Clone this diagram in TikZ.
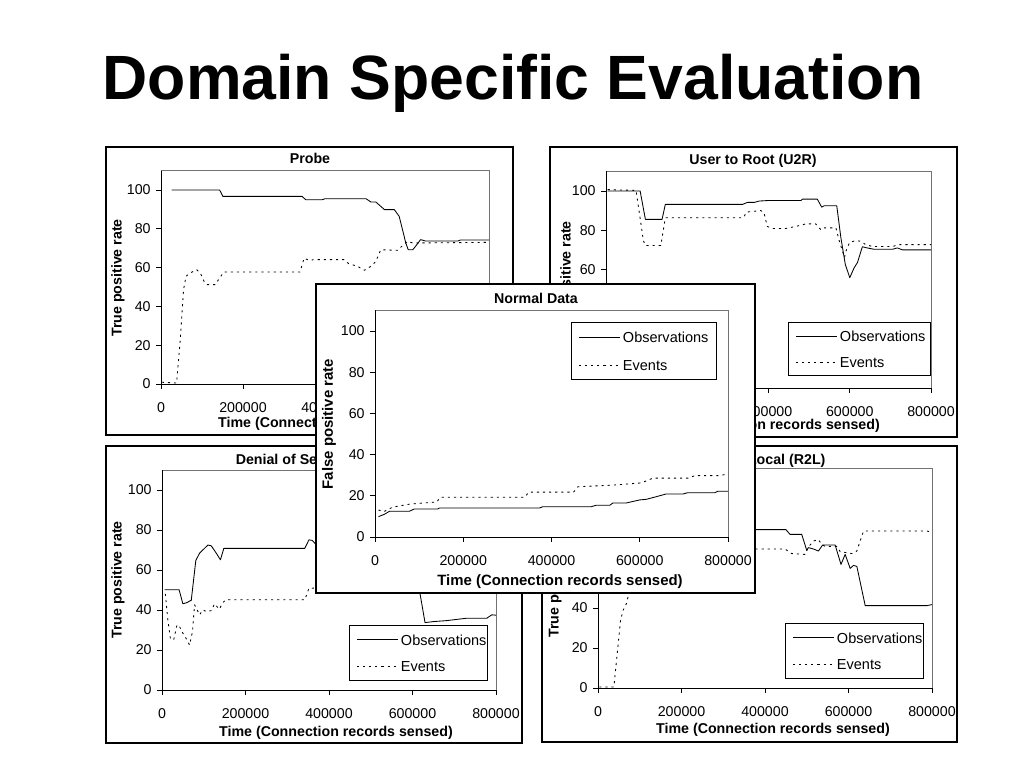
\documentclass[tikz,border=0pt]{standalone}
\usepackage{fontspec}
\setmainfont{Liberation Sans}

% frame, axes and ticks of one chart, drawn in data units (x in 1000s, y in %)
\newcommand{\rateaxes}[1]{%
  \draw[plotframe] (0,0) rectangle (800,110);
  \draw[axisline] (0,110) -- (0,0) -- (800,0);
  \foreach \v in {0,20,...,100}
    \draw[axisline] (0,\v) -- ++(-3.5pt,0pt) node[ticklabel, anchor=east, xshift=-3.5pt] (#1y\v) {\v};
  \foreach \t/\lab in {0/0,200/200000,400/400000,600/600000,800/800000}
    \draw[axisline] (\t,0) -- ++(0pt,-3.5pt) node[ticklabel, anchor=north, yshift=-9pt] (#1x\t) {\lab};
}
% legend box: name, left, top, width, height (pixels)
\newcommand{\ratelegend}[5]{%
  \draw[legendbox] (#2,#3) rectangle ({#2+#4},{#3+#5});
  \draw[obsline] ({#2+8},{#3+0.27*#5}) -- ({#2+49},{#3+0.27*#5})
    node[legendtext] (#1obs) {Observations};
  \draw[evtline] ({#2+8},{#3+0.76*#5}) -- ({#2+49},{#3+0.76*#5})
    node[legendtext] (#1evt) {Events};
}

\begin{document}
\begin{tikzpicture}[x=0.703125pt, y=-0.703125pt,
    chartbox/.style={draw=black, line width=0.9pt, fill=white},
    plotframe/.style={draw=black!55, line width=0.7pt},
    axisline/.style={draw=black, line width=0.6pt},
    obsline/.style={black, line width=0.6pt, line join=round},
    evtline/.style={black, line width=0.6pt, line join=round, dash pattern=on 1.5pt off 2.8pt},
    ticklabel/.style={inner sep=0pt, font=\fontsize{10}{12}\selectfont},
    charttitle/.style={inner sep=0pt, anchor=base, font=\fontsize{10}{12}\selectfont\bfseries},
    axislabel/.style={inner sep=0pt, font=\fontsize{10}{12}\selectfont\bfseries},
    legendbox/.style={draw=black, line width=0.6pt, fill=white},
    legendtext/.style={anchor=west, inner sep=0pt, xshift=1.8pt, text=black, font=\fontsize{10.2}{12}\selectfont}]
	\useasboundingbox (0,0) rectangle (1024,768);
	\node[inner sep=0pt, anchor=base, font=\fontsize{44}{52}\selectfont\bfseries] (title) at (513,100) {Domain Specific Evaluation};

	% Probe
	\draw[chartbox] (106,147) rectangle (513,435);
	\node[charttitle] (probetitle) at (310,164) {Probe};
	\node[axislabel, rotate=90] (probeylabel) at (118,278) {True positive rate};
	\node[axislabel, anchor=base] (probexlabel) at (335,427) {Time (Connection records sensed)};
	\begin{scope}[shift={(161,384)}, x=0.28828pt, y=1.36406pt]
		\rateaxes{probe}
		\draw[obsline] plot coordinates {(26,100) (143,100) (151,96.7) (344,96.7) (353,95) (393,95) (400,95.5) (500,95.5) (512,93.8) (524,93.8) (545,89.9) (569,89.9) (581,86.4) (589,79.6) (597,72.7) (603,69.2) (614,69.2) (622,71.3) (633,74.4) (639,74.1) (645,73.7) (724,73.7) (730,74.2) (800,74.2)};
		\draw[evtline] plot coordinates {(2,0.9) (38,0.5) (47,22.9) (55,48.6) (61,55.5) (71,57.2) (87,58.9) (96,57.2) (105,52.9) (113,51.2) (132,51.2) (143,54.6) (153,57.7) (339,57.7) (349,64.9) (361,63.7) (373,64.1) (446,64.1) (458,62) (479,60.7) (496,58.6) (512,60.7) (524,63.2) (536,69.2) (577,68.9) (589,71.3) (601,73.5) (614,72.7) (800,73)};
	\end{scope}

	% User to Root
	\draw[chartbox] (550,147) rectangle (957,437);
	\node[charttitle] (utrtitle) at (753,165) {User to Root (U2R)};
	\node[axislabel, rotate=90] (utrylabel) at (567,280) {True positive rate};
	\node[axislabel, anchor=base] (utrxlabel) at (763,429) {Time (Connection records sensed)};
	\begin{scope}[shift={(606,388)}, x=0.28564pt, y=1.38516pt]
		\rateaxes{utr}
		\draw[obsline] plot coordinates {(4,100) (84,100) (97,85.6) (138,85.6) (146,93.2) (336,93.2) (348,94.2) (365,94.2) (377,94.9) (402,95.2) (480,95.2) (484,95.9) (520,95.9) (531,91.8) (537,92.5) (568,92.5) (578,76.5) (589,62.8) (600,56) (611,61.1) (619,63.7) (631,71.7) (643,71.1) (660,70.4) (705,70.4) (717,71.1) (730,70.1) (800,70.1)};
		\draw[evtline] plot coordinates {(4,100.7) (74,100.3) (92,74.8) (97,72.3) (135,72.3) (146,86.4) (338,86.4) (346,89.3) (369,89.8) (381,90.1) (389,88.8) (397,82) (410,81) (443,81) (467,82) (492,83.3) (516,83.3) (529,80.3) (537,81.3) (566,81.3) (574,74.8) (587,66.3) (591,69.7) (600,74) (615,74.8) (627,74.5) (639,72.8) (656,71.8) (705,71.8) (721,72.8) (800,72.8)};
	\end{scope}
	\ratelegend{utr}{788}{322}{142}{53}

	% Denial of Service
	\draw[chartbox] (106,446) rectangle (522,743);
	\node[charttitle] (dostitle) at (314,464) {Denial of Service (DoS)};
	\node[axislabel, rotate=90] (dosylabel) at (118,580) {True positive rate};
	\node[axislabel, anchor=base] (dosxlabel) at (336,736) {Time (Connection records sensed)};
	\begin{scope}[shift={(162,690)}, x=0.29355pt, y=1.40625pt]
		\rateaxes{dos}
		\draw[obsline] plot coordinates {(6,50.1) (41,50.1) (50,43.1) (60,43.7) (68,44.7) (70,44.7) (81,64.8) (90,68.4) (110,72.5) (118,72.1) (130,68.4) (140,65.1) (148,70.8) (342,70.8) (352,75.1) (360,74.8) (372,72) (420,70.5) (600,70) (630,33.7) (650,34.2) (682,34.7) (730,35.9) (778,35.9) (790,37.6) (800,37.4)};
		\draw[evtline] plot coordinates {(8,48.1) (14,35.1) (20,25.9) (28,25) (36,32.6) (42,31.7) (50,28.4) (60,25) (66,22.5) (73,29.2) (78,42.6) (90,37.6) (98,40.1) (106,39.2) (118,39.7) (126,43.1) (137,40.4) (146,43.7) (153,45.1) (342,45.1) (352,50.9) (420,51) (560,52) (640,53) (800,55)};
	\end{scope}
	\ratelegend{dos}{349}{625}{138}{55}

	% Remote to Local
	\draw[chartbox] (542,446) rectangle (957,742);
	\node[charttitle] (rtltitle) at (750,464) {Remote to Local (R2L)};
	\node[axislabel, rotate=90] (rtlylabel) at (555,579) {True positive rate};
	\node[axislabel, anchor=base] (rtlxlabel) at (773,733) {Time (Connection records sensed)};
	\begin{scope}[shift={(598,688)}, x=0.29355pt, y=1.40625pt]
		\rateaxes{rtl}
		\draw[obsline] plot coordinates {(4,79.2) (450,79.2) (460,76.8) (488,76.8) (500,68.8) (504,70.2) (516,69.5) (528,68.5) (538,71.5) (568,71.5) (582,61.8) (592,66.8) (604,59.8) (612,61.3) (620,60.8) (640,41.2) (788,41.2) (800,41.7)};
		\draw[evtline] plot coordinates {(3,0.5) (38,0.5) (46,17.2) (54,33.8) (60,38.8) (68,42.2) (74,47.3) (85,55) (120,62) (200,69.5) (448,69.5) (464,67.2) (496,66.8) (504,70.5) (516,73.5) (528,74.2) (536,71.8) (544,70.8) (572,70.8) (580,68.2) (608,67.2) (620,68.5) (636,78.5) (788,78.5) (800,77.8)};
	\end{scope}
	\ratelegend{rtl}{785}{623}{138}{55}

	% Normal Data
	\draw[chartbox] (316,284) rectangle (755,593);
	\node[charttitle] (normaltitle) at (536,303) {Normal Data};
	\node[axislabel, rotate=90, font=\fontsize{10.5}{12}\selectfont\bfseries] (normalylabel) at (329,424) {False positive rate};
	\node[axislabel, anchor=base, font=\fontsize{10.5}{12}\selectfont\bfseries] (normalxlabel) at (560,585) {Time (Connection records sensed)};
	\begin{scope}[shift={(375,537)}, x=0.31025pt, y=1.44844pt]
		\rateaxes{normal}
		\draw[obsline] plot coordinates {(8,9.9) (21,11) (33,12.5) (78,12.5) (89,13.6) (142,13.6) (146,14.1) (373,14.1) (380,14.7) (490,14.7) (501,15.4) (532,15.4) (539,16.5) (569,16.5) (600,18) (615,18.3) (638,19.6) (660,20.9) (698,20.9) (709,21.5) (770,21.5) (777,22.2) (800,22.2)};
		\draw[evtline] plot coordinates {(8,13.1) (20,12.3) (40,14.5) (80,16) (110,16.5) (140,17) (148,19.3) (340,19.3) (348,21.8) (450,21.8) (460,24.4) (540,25.2) (600,26.2) (612,27) (630,28.6) (710,28.6) (725,29.8) (780,29.8) (800,30.6)};
	\end{scope}
	\ratelegend{normal}{571}{322}{145}{57}
\end{tikzpicture}
\end{document}
